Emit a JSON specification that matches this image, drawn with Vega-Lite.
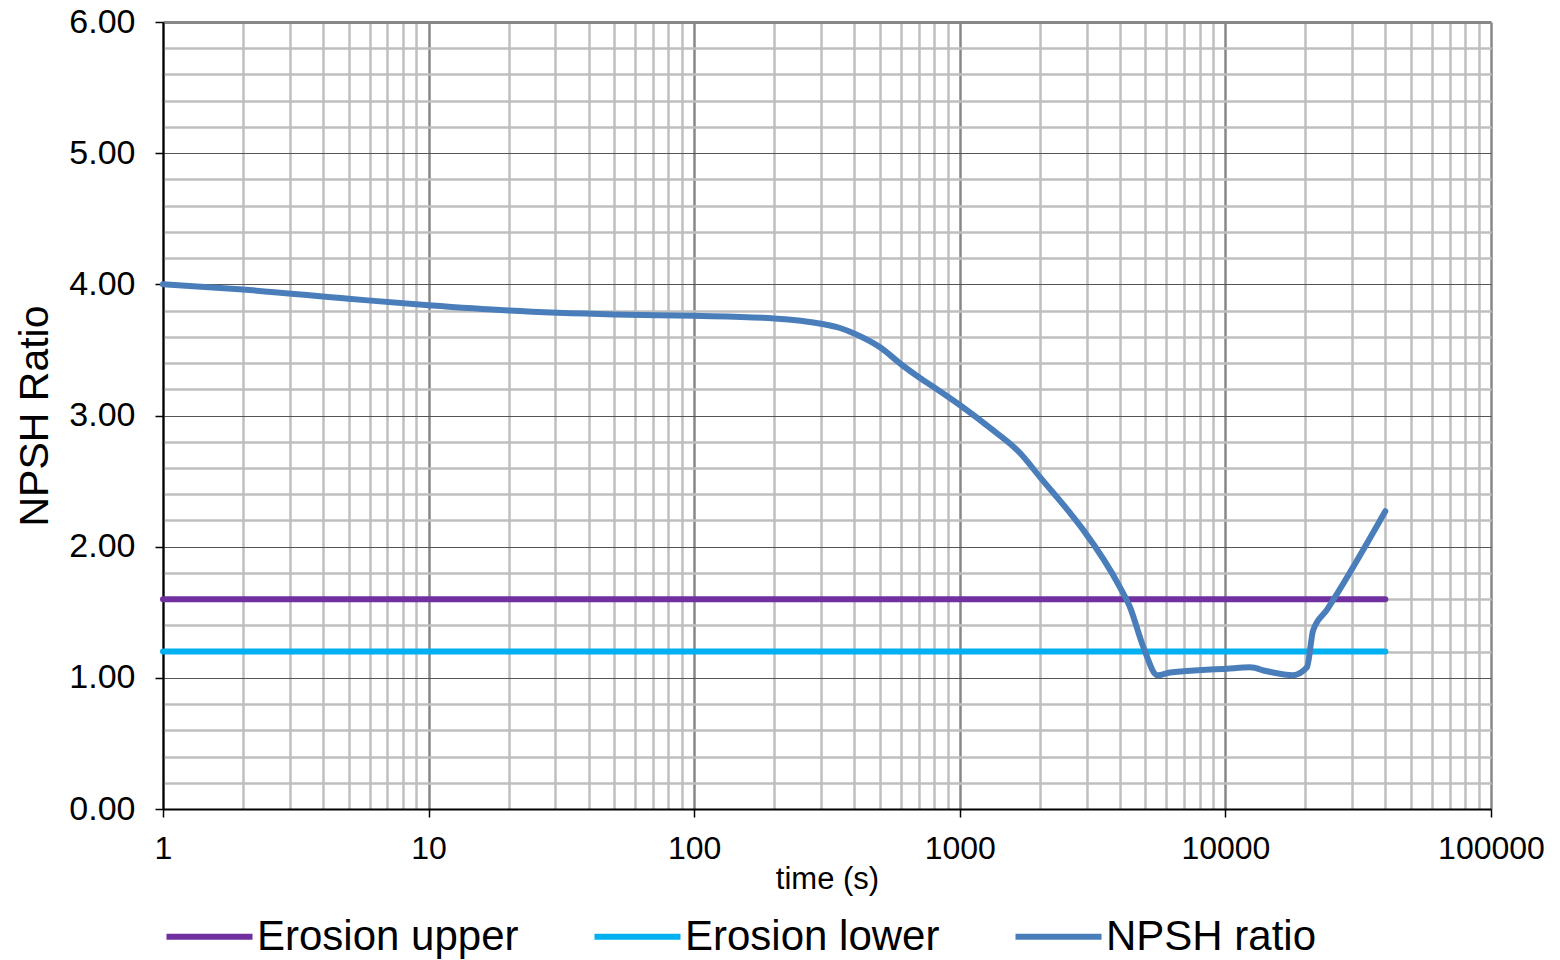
{
  "$schema": "https://vega.github.io/schema/vega-lite/v6.json",
  "autosize": {"type": "none"},
  "width": 1328,
  "height": 787,
  "padding": {"left": 163, "top": 22, "right": 69, "bottom": 151},
  "background": "white",
  "config": {
    "font": "Liberation Sans",
    "view": {"stroke": null}
  },
  "data": {
    "values": [
      {"t": 1, "v": 1.6, "s": "Erosion upper"},
      {"t": 40000, "v": 1.6, "s": "Erosion upper"},
      {"t": 1, "v": 1.2, "s": "Erosion lower"},
      {"t": 40000, "v": 1.2, "s": "Erosion lower"},
      {"t": 1, "v": 4.0, "s": "NPSH ratio"},
      {"t": 2, "v": 3.96, "s": "NPSH ratio"},
      {"t": 5, "v": 3.89, "s": "NPSH ratio"},
      {"t": 10, "v": 3.84, "s": "NPSH ratio"},
      {"t": 20, "v": 3.8, "s": "NPSH ratio"},
      {"t": 50, "v": 3.77, "s": "NPSH ratio"},
      {"t": 100, "v": 3.76, "s": "NPSH ratio"},
      {"t": 200, "v": 3.74, "s": "NPSH ratio"},
      {"t": 300, "v": 3.7, "s": "NPSH ratio"},
      {"t": 354, "v": 3.667, "s": "NPSH ratio"},
      {"t": 400, "v": 3.625, "s": "NPSH ratio"},
      {"t": 501, "v": 3.52, "s": "NPSH ratio"},
      {"t": 606, "v": 3.385, "s": "NPSH ratio"},
      {"t": 708, "v": 3.286, "s": "NPSH ratio"},
      {"t": 807, "v": 3.21, "s": "NPSH ratio"},
      {"t": 1000, "v": 3.08, "s": "NPSH ratio"},
      {"t": 1300, "v": 2.905, "s": "NPSH ratio"},
      {"t": 1686, "v": 2.714, "s": "NPSH ratio"},
      {"t": 2004, "v": 2.53, "s": "NPSH ratio"},
      {"t": 2600, "v": 2.257, "s": "NPSH ratio"},
      {"t": 2910, "v": 2.13, "s": "NPSH ratio"},
      {"t": 4010, "v": 1.69, "s": "NPSH ratio"},
      {"t": 4370, "v": 1.54, "s": "NPSH ratio"},
      {"t": 4900, "v": 1.24, "s": "NPSH ratio"},
      {"t": 5550, "v": 1.02, "s": "NPSH ratio"},
      {"t": 6180, "v": 1.04, "s": "NPSH ratio"},
      {"t": 10140, "v": 1.07, "s": "NPSH ratio"},
      {"t": 12380, "v": 1.08, "s": "NPSH ratio"},
      {"t": 14350, "v": 1.05, "s": "NPSH ratio"},
      {"t": 17960, "v": 1.02, "s": "NPSH ratio"},
      {"t": 20280, "v": 1.08, "s": "NPSH ratio"},
      {"t": 21380, "v": 1.36, "s": "NPSH ratio"},
      {"t": 24140, "v": 1.52, "s": "NPSH ratio"},
      {"t": 40000, "v": 2.27, "s": "NPSH ratio"}
    ]
  },
  "mark": {"type": "line", "strokeCap": "round", "strokeJoin": "round", "interpolate": "monotone"},
  "encoding": {
    "x": {
      "field": "t",
      "type": "quantitative",
      "scale": {"type": "log", "domain": [1, 100000], "nice": false},
      "axis": {
        "title": "time (s)",
        "titleFontSize": 31,
        "titleFontWeight": "normal",
        "titleColor": "black",
        "titlePadding": 0,
        "values": [1,2,3,4,5,6,7,8,9,10,20,30,40,50,60,70,80,90,100,200,300,400,500,600,700,800,900,1000,2000,3000,4000,5000,6000,7000,8000,9000,10000,20000,30000,40000,50000,60000,70000,80000,90000,100000],
        "labelExpr": "indexof([1,10,100,1000,10000,100000], datum.value) >= 0 ? format(datum.value, 'd') : ''",
        "labelFontSize": 32,
        "labelColor": "black",
        "labelPadding": 16,
        "labelFlush": false,
        "labelOverlap": false,
        "domainColor": "black",
        "domainWidth": 2,
        "tickColor": "black",
        "tickSize": 8,
        "tickWidth": 1.5,
        "tickOpacity": {"condition": {"test": "indexof([1,10,100,1000,10000,100000], datum.value) >= 0", "value": 1}, "value": 0},
        "grid": true,
        "gridColor": {"condition": {"test": "indexof([1,10,100,1000,10000,100000], datum.value) >= 0", "value": "#878787"}, "value": "#BFBFBF"},
        "gridWidth": 2.5,
        "zindex": 0
      }
    },
    "y": {
      "field": "v",
      "type": "quantitative",
      "scale": {"domain": [0, 6], "nice": false, "zero": true},
      "axis": {
        "title": "NPSH Ratio",
        "titleFontSize": 41,
        "titleFontWeight": "normal",
        "titleColor": "black",
        "titlePadding": 12,
        "values": [0,0.2,0.4,0.6,0.8,1,1.2,1.4,1.6,1.8,2,2.2,2.4,2.6,2.8,3,3.2,3.4,3.6,3.8,4,4.2,4.4,4.6,4.8,5,5.2,5.4,5.6,5.8,6],
        "labelExpr": "datum.value % 1 == 0 ? format(datum.value, '.2f') : ''",
        "labelFontSize": 34,
        "labelColor": "black",
        "labelPadding": 20,
        "labelFlush": false,
        "labelOverlap": false,
        "domainColor": "black",
        "domainWidth": 2,
        "tickColor": "black",
        "tickSize": 8,
        "tickWidth": 1.5,
        "tickOpacity": {"condition": {"test": "datum.value % 1 == 0", "value": 1}, "value": 0},
        "grid": true,
        "gridColor": {"condition": [{"test": "datum.value == 6", "value": "#878787"}, {"test": "datum.value % 1 == 0", "value": "#555555"}], "value": "#BFBFBF"},
        "gridWidth": {"condition": [{"test": "datum.value == 6", "value": 3}, {"test": "datum.value % 1 == 0", "value": 1.2}], "value": 2.5},
        "zindex": 0
      }
    },
    "color": {
      "field": "s",
      "type": "nominal",
      "scale": {"domain": ["Erosion upper", "Erosion lower", "NPSH ratio"], "range": ["#7030A0", "#00B0F0", "#4A7EBB"]},
      "legend": {
        "title": null,
        "orient": "bottom",
        "direction": "horizontal",
        "symbolType": "stroke",
        "symbolSize": 7400,
        "symbolStrokeWidth": 8,
        "labelFontSize": 42,
        "labelColor": "black",
        "labelLimit": 400,
        "labelOffset": 1,
        "columnPadding": 63,
        "offset": -4
      }
    },
    "strokeWidth": {
      "field": "s",
      "type": "nominal",
      "scale": {"domain": ["Erosion upper", "Erosion lower", "NPSH ratio"], "range": [6, 6, 8]},
      "legend": null
    }
  }
}
